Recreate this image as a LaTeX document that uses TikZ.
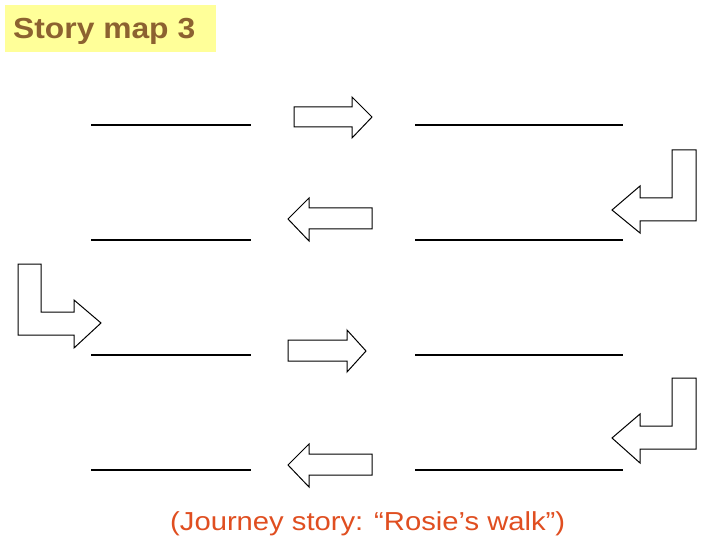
\documentclass[tikz,border=0pt]{standalone}
\usepackage{fontspec}
\setmainfont{Liberation Sans}
\usepackage{graphicx}
\definecolor{titlebrown}{RGB}{140,98,48}
\definecolor{titlefill}{RGB}{255,255,153}
\definecolor{captionred}{RGB}{224,78,32}
\tikzset{
  blank/.style={line width=1.1pt, draw=black},
  bigarrow/.style={draw=black, line width=1pt, fill=white, line join=miter},
  txt/.style={inner sep=0pt, anchor=base west}
}
\begin{document}
\begin{tikzpicture}[x=1pt,y=-1pt]
\useasboundingbox (0,0) rectangle (720,540);
\fill[white] (0,0) rectangle (720,540);
% title
\fill[titlefill] (5,5) rectangle (216,52);
\node[txt, text=titlebrown, font=\fontsize{29}{32}\selectfont\bfseries] (title) at (13,39) {\resizebox{182pt}{\height}{Story map 3}};
% blanks
\foreach \y [count=\i] in {125,240,355,470}{
  \coordinate (l\i a) at (91,\y); \coordinate (l\i b) at (251,\y);
  \coordinate (r\i a) at (415,\y); \coordinate (r\i b) at (623,\y);
  \draw[blank] (l\i a) -- (l\i b);
  \draw[blank] (r\i a) -- (r\i b);
}
% straight arrows
\draw[bigarrow] (294,107) -- (352,107) -- (352,97) -- (372,117) -- (352,138) -- (352,127) -- (294,127) -- cycle;
\draw[bigarrow] (372,208) -- (309,208) -- (309,198) -- (288,219) -- (309,241) -- (309,229) -- (372,229) -- cycle;
\draw[bigarrow] (288,340) -- (347,340) -- (347,330) -- (366,351) -- (347,372) -- (347,361) -- (288,361) -- cycle;
\draw[bigarrow] (372,454) -- (309,454) -- (309,444) -- (288,465) -- (309,487) -- (309,475) -- (372,475) -- cycle;
% L arrows
\draw[bigarrow] (672,150) -- (696,150) -- (696,221) -- (640,221) -- (640,233) -- (612,210) -- (640,186) -- (640,198) -- (672,198) -- cycle;
\draw[bigarrow] (18,264) -- (41,264) -- (41,312) -- (74,312) -- (74,300) -- (101,323) -- (74,348) -- (74,335) -- (18,335) -- cycle;
\draw[bigarrow] (672,378) -- (696,378) -- (696,449) -- (640,449) -- (640,463) -- (612,438) -- (640,414) -- (640,426) -- (672,426) -- cycle;
% caption
\node[txt, text=captionred, font=\fontsize{26}{30}\selectfont] (caption) at (170,530) {\resizebox{395pt}{\height}{(Journey story: “Rosie’s walk”)}};
\end{tikzpicture}
\end{document}
